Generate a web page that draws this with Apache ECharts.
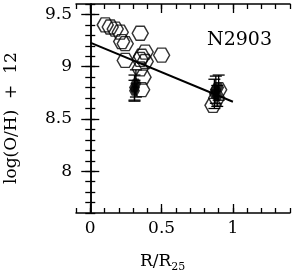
<!DOCTYPE html>
<html><head><meta charset="utf-8">
<script src="https://cdn.jsdelivr.net/npm/echarts@6/dist/echarts.min.js"></script>
<style>html,body{margin:0;padding:0;background:#fff}#c{width:293px;height:276px}</style>
</head><body><div id="c"></div>
<script>
// open hexagons
var openX = [0.105, 0.14, 0.175, 0.21, 0.22, 0.245, 0.35, 0.385, 0.50, 0.245, 0.36, 0.35, 0.35, 0.37, 0.36, 0.385, 0.86, 0.886, 0.90];
var openY = [9.40, 9.38, 9.36, 9.33, 9.24, 9.22, 9.32, 9.14, 9.11, 9.06, 9.10, 9.07, 8.98, 8.90, 8.78, 9.05, 8.63, 8.70, 8.78];
// filled points with errors
var fillX = [0.31, 0.32, 0.31, 0.88, 0.90, 0.87, 0.89];
var fillY = [8.80, 8.84, 8.77, 8.78, 8.80, 8.74, 8.72];
var fillErr = [0.12, 0.13, 0.10, 0.13, 0.12, 0.14, 0.10];
// fit line
var lineX = [0, 1.0];
var lineY = [9.23, 8.665];
var xTicks = [0, 0.5, 1];
var yTicks = [8, 8.5, 9, 9.5];

var hex = 'path://M0,8.66 L5,0 L15,0 L20,8.66 L15,17.32 L5,17.32 Z';
var font = '"DejaVu Serif", serif';
var chart = echarts.init(document.getElementById('c'));
function xa(pos, major, labels){
  return {type:'value', min:-0.1, max:1.4, position:pos, gridIndex:0,
    interval: major ? undefined : 0.1,
    axisLine:{show:major, lineStyle:{color:'#000', width:1.5}},
    axisTick:{show:true, inside:true, length: major?9:5, lineStyle:{color:'#000', width:1.3},
      customValues: major ? xTicks : undefined},
    axisLabel:{show:labels, customValues: xTicks, color:'#000', fontSize:17, fontFamily:font, margin:7},
    splitLine:{show:false}};
}
function ya(pos, major, labels){
  return {type:'value', min:7.6, max:9.6, position:pos, gridIndex:0,
    interval: major ? undefined : 0.1,
    axisLine:{show:major, lineStyle:{color:'#000', width:1.5}},
    axisTick:{show:true, inside:true, length: major?9:5, lineStyle:{color:'#000', width:1.3},
      customValues: major ? yTicks : undefined},
    axisLabel:{show:labels, customValues: yTicks, color:'#000', fontSize:17, fontFamily:font, margin:4},
    splitLine:{show:false}};
}
var openData = openX.map(function(x,i){return [x, openY[i]];});
var fillData = fillX.map(function(x,i){return [x, fillY[i], fillErr[i]];});
chart.setOption({
  animation:false,
  grid:{left:76, top:4, width:214, height:209},
  xAxis:[xa('bottom',true,true), xa('bottom',false,false), xa('top',true,false), xa('top',false,false)],
  yAxis:[ya('left',true,true), ya('left',false,false), ya('right',true,false), ya('right',false,false)],
  graphic:[
    {type:'text', left:140, top:253, style:{rich:{a:{fontSize:17,fontFamily:font,fill:'#000'}, s:{fontSize:11,fontFamily:font,fill:'#000', padding:[12,0,0,0]}}, text:'{a|R/R}{s|25}'}},
    {type:'text', x:3, y:184, rotation:Math.PI/2, style:{text:'log(O/H)  +  12', font:'17px '+font, fill:'#000'}},
    {type:'text', right:21, top:31, style:{text:'N2903', font:'19px '+font, fill:'#000'}}
  ],
  series:[
    {type:'scatter', data:openData, symbol:hex, symbolSize:[16,14],
      itemStyle:{color:'rgba(0,0,0,0)', borderColor:'#000', borderWidth:1.4}},
    {type:'custom', data:fillData, renderItem:function(params, api){
      var x=api.value(0), y=api.value(1), e=api.value(2);
      var top=api.coord([x,y+e]), bot=api.coord([x,y-e]);
      var w=6;
      return {type:'group', children:[
        {type:'line', shape:{x1:top[0],y1:top[1],x2:bot[0],y2:bot[1]}, style:{stroke:'#000',lineWidth:1.3}},
        {type:'line', shape:{x1:top[0]-w,y1:top[1],x2:top[0]+w,y2:top[1]}, style:{stroke:'#000',lineWidth:1.3}},
        {type:'line', shape:{x1:bot[0]-w,y1:bot[1],x2:bot[0]+w,y2:bot[1]}, style:{stroke:'#000',lineWidth:1.3}}
      ]};
    }},
    {type:'scatter', data:fillData, symbol:hex, symbolSize:[11,10], itemStyle:{color:'#000'}},
    {type:'line', data:lineX.map(function(x,i){return [x,lineY[i]];}), symbol:'none',
      lineStyle:{color:'#000', width:2}}
  ]
});
</script></body></html>
